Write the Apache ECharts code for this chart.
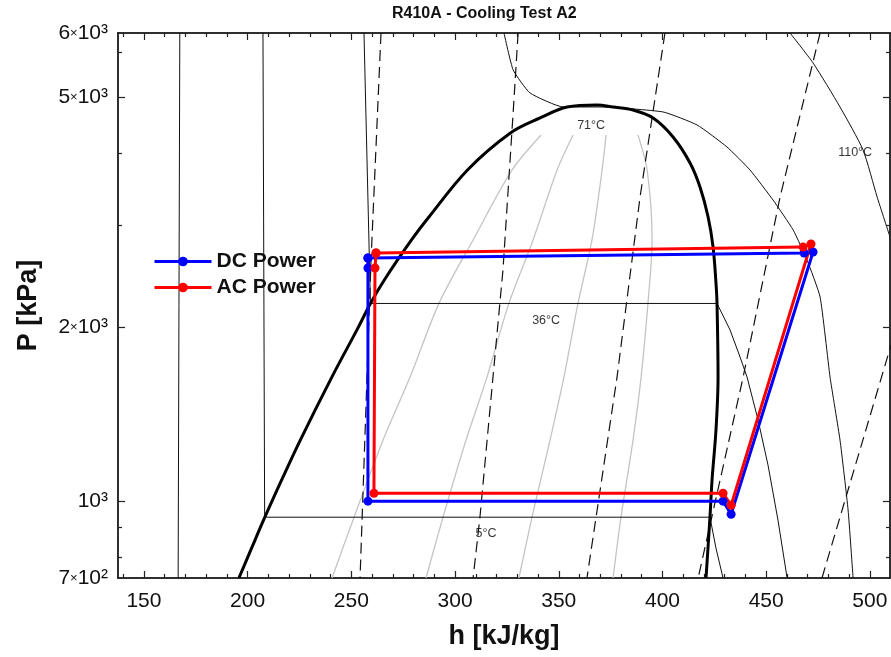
<!DOCTYPE html>
<html>
<head>
<meta charset="utf-8">
<title>R410A - Cooling Test A2</title>
<script src="https://cdn.jsdelivr.net/npm/echarts@6/dist/echarts.min.js"></script>
<style>
  html, body { margin: 0; padding: 0; background: #fff; }
  #chart { width: 891px; height: 657px; }
</style>
</head>
<body>
<div id="chart"></div>
<script>
// axis ranges and ticks
const hMin = 137.5, hMax = 509.7;
const pMin = 736, pMax = 6470;
const hLabelTicks = [150, 200, 250, 300, 350, 400, 450, 500];
const hMinorTicks = [140, 160, 170, 180, 190, 210, 220, 230, 240, 260, 270, 280, 290, 310, 320, 330, 340,
  360, 370, 380, 390, 410, 420, 430, 440, 460, 470, 480, 490, 510];
const pLabelValues = [736, 1000, 2000, 5000, 6470];
const pLabels = ['7×10²', '10³', '2×10³', '5×10³', '6×10³'];
const pMajorTicks = [1000, 2000, 5000];
const pMinorTicks = [800, 900, 3000, 4000, 6000];

// measured cycles [h kJ/kg, P kPa]
const dcCycle = [[258.0, 2637], [258.0, 2534], [258.0, 1000], [429.2, 1000], [433.1, 949],
  [472.6, 2701], [468.3, 2690], [258.0, 2637]];
const acCycle = [[261.9, 2690], [261.4, 2534], [260.9, 1032], [429.2, 1032], [433.1, 984],
  [471.6, 2789], [467.8, 2755], [261.9, 2690]];

// saturation dome
const satLiquid = [[195.8, 736], [201.9, 829], [208.3, 938], [216.8, 1096], [225.4, 1276], [240.6, 1640],
  [253.4, 2002], [259.2, 2200], [265.9, 2416], [279.0, 2834], [287.4, 3106], [306.0, 3747],
  [326.7, 4342], [341.0, 4610], [354.0, 4817], [368.5, 4856]];
const satVapor = [[376.2, 4817], [385.8, 4760], [395.5, 4610], [405.1, 4274], [413.3, 3853], [418.1, 3501],
  [422.0, 3106], [424.4, 2756], [425.8, 2387], [426.3, 2200], [426.8, 1640], [425.8, 1328],
  [423.9, 1087], [422.9, 938], [421.0, 736]];

// isotherms
const isoLow = [[167.3, 6470], [166.5, 736]];
const iso5 = [[207.4, 6470], [208.2, 938], [422.9, 938], [425.8, 829], [429.2, 736]];
const iso36 = [[256.1, 6470], [259.2, 2200], [426.3, 2200], [432.6, 1979], [437.4, 1777], [440.8, 1640],
  [446.1, 1382], [450.9, 1154], [455.7, 927], [460.1, 736]];
const iso71 = [[323.6, 6470], [328.0, 5584], [336.1, 5095], [352.1, 4817], [369.9, 4817], [400.3, 4722],
  [416.7, 4483], [431.1, 4107], [442.2, 3747], [453.3, 3324], [463.0, 2950], [469.7, 2616],
  [476.0, 2257], [480.8, 1640], [485.6, 1276], [489.5, 965], [491.9, 736]];
const iso110 = [[461.5, 6470], [472.6, 5742], [485.6, 4817], [496.7, 4058], [503.5, 3364], [509.7, 2869]];

// isentropes (dashed)
const isen1 = [[264.3, 6470], [259.5, 2616], [254.2, 736]];
const isen2 = [[330.4, 6470], [328.0, 4703], [323.1, 2514], [312.0, 938], [308.7, 736]];
const isen3 = [[401.2, 6470], [389.2, 3364], [378.1, 1640], [363.6, 736]];
const isen4 = [[476.0, 6470], [456.7, 3364], [438.9, 1640], [417.2, 736]];
const isen5 = [[476.9, 736], [510.2, 1864]];

// constant quality lines (grey)
const q20 = [[240.7, 736], [251.3, 938], [265.3, 1276], [278.3, 1640], [292.3, 2203], [308.7, 2834], [327.5, 3747], [341.5, 4308]];
const q40 = [[286.0, 736], [294.2, 938], [305.3, 1276], [315.4, 1640], [326.0, 2203], [337.6, 2834], [349.2, 3747], [356.9, 4308]];
const q60 = [[330.8, 736], [337.1, 938], [345.8, 1276], [352.5, 1640], [359.3, 2203], [366.0, 2834], [370.9, 3747], [372.8, 4308]];
const q80 = [[376.2, 736], [380.0, 938], [385.8, 1276], [389.7, 1640], [393.0, 2203], [395.0, 2834], [392.6, 3747], [388.2, 4308]];

// isotherm labels
const isoLabelNames = ['71°C', '36°C', '5°C', '110°C'];
const isoLabelPoints = [[365.6, 4467], [343.9, 2059], [314.9, 880], [492.9, 4010]];

const font = 'Liberation Sans, Arial, sans-serif';
const chart = echarts.init(document.getElementById('chart'));

const axisLine = { show: true, onZero: false, lineStyle: { color: '#222', width: 1.5 } };
const tickStyle = { color: '#222', width: 1.2 };

function pFormatter(v) {
  let i = pLabelValues.findIndex(x => Math.abs(x - v) / x < 0.01);
  if (i < 0) return '';
  const parts = pLabels[i].split('×');
  return parts.length > 1 ? '{m|' + parts[0] + '}{x|×}{m|' + parts[1] + '}' : '{m|' + parts[0] + '}';
}

function xAxisDef(pos, ticks, len, labels) {
  return {
    type: 'value', position: pos, min: hMin, max: hMax,
    axisLine: axisLine,
    axisTick: { inside: true, length: len, customValues: ticks, lineStyle: tickStyle },
    axisLabel: labels ? { show: true, customValues: hLabelTicks, margin: 13, fontSize: 21, color: '#111', fontFamily: font } : { show: false },
    splitLine: { show: false }
  };
}
function yAxisDef(pos, ticks, len, labels) {
  return {
    type: 'log', position: pos, min: pMin, max: pMax,
    axisLine: axisLine,
    axisTick: { inside: true, length: len, customValues: ticks, lineStyle: tickStyle },
    axisLabel: labels ? {
      show: true, customValues: pLabelValues, margin: 10, formatter: pFormatter,
      rich: {
        m: { fontSize: 21, color: '#111', fontFamily: font },
        x: { fontSize: 13, color: '#111', fontFamily: font }
      }
    } : { show: false },
    splitLine: { show: false }
  };
}

const xAxes = [xAxisDef('bottom', hLabelTicks, 7, true), xAxisDef('bottom', hMinorTicks, 4, false),
  xAxisDef('top', hLabelTicks, 7, false), xAxisDef('top', hMinorTicks, 4, false)];
Object.assign(xAxes[0], {
  name: 'h [kJ/kg]', nameLocation: 'middle', nameGap: 45,
  nameTextStyle: { fontSize: 27, fontWeight: 'bold', color: '#111', fontFamily: font }
});
const yAxes = [yAxisDef('left', pMajorTicks, 7, true), yAxisDef('left', pMinorTicks, 4, false),
  yAxisDef('right', pMajorTicks, 7, false), yAxisDef('right', pMinorTicks, 4, false)];
Object.assign(yAxes[0], {
  name: 'P [kPa]', nameLocation: 'middle', nameGap: 76, nameRotate: 90,
  nameTextStyle: { fontSize: 27, fontWeight: 'bold', color: '#111', fontFamily: font }
});

function thin(data, opts) {
  return Object.assign({
    type: 'line', data: data, symbol: 'none', silent: true,
    lineStyle: { color: '#111', width: 1 }
  }, opts || {});
}
const dashed = { color: '#111', width: 1.2, type: [11, 6] };
const grey = { color: '#c4c4c4', width: 1.3 };

const series = [
  thin(q20, { smooth: 0.3, lineStyle: grey }),
  thin(q40, { smooth: 0.3, lineStyle: grey }),
  thin(q60, { smooth: 0.3, lineStyle: grey }),
  thin(q80, { smooth: 0.3, lineStyle: grey }),
  thin(isoLow), thin(iso5), thin(iso36), thin(iso71, { smooth: 0.15 }), thin(iso110, { smooth: 0.2 }),
  thin(isen1, { lineStyle: dashed }), thin(isen2, { lineStyle: dashed }),
  thin(isen3, { lineStyle: dashed }), thin(isen4, { lineStyle: dashed }),
  thin(isen5, { lineStyle: dashed }),
  thin(satLiquid.concat(satVapor), { smooth: 0.35, lineStyle: { color: '#000', width: 3 } }),
  {
    type: 'scatter', silent: true, symbolSize: 0,
    data: isoLabelPoints.map((p, i) => ({ value: p, name: isoLabelNames[i] })),
    label: {
      show: true, position: 'inside', formatter: '{b}', fontSize: 12.5, color: '#000', fontFamily: font,
      backgroundColor: '#fff', padding: [1, 1]
    }
  },
  {
    name: 'DC Power', type: 'line', data: dcCycle, symbol: 'circle', symbolSize: 9,
    itemStyle: { color: '#0000ff' }, lineStyle: { color: '#0000ff', width: 3 }
  },
  {
    name: 'AC Power', type: 'line', data: acCycle, symbol: 'circle', symbolSize: 9,
    itemStyle: { color: '#ff0000' }, lineStyle: { color: '#ff0000', width: 3 }
  }
];

chart.setOption({
  animation: false,
  backgroundColor: '#fff',
  title: {
    text: 'R410A - Cooling Test A2', left: 392, top: 6, padding: 0,
    textStyle: { fontSize: 16, fontWeight: 'bold', color: '#111', fontFamily: font }
  },
  legend: {
    data: ['DC Power', 'AC Power'], orient: 'vertical', left: 153, top: 251, padding: 0,
    itemWidth: 57, itemHeight: 12, itemGap: 5,
    lineStyle: { width: 3 },
    textStyle: { fontSize: 21, fontWeight: 'bold', color: '#111', fontFamily: font }
  },
  grid: { left: 118, top: 33, right: 1, bottom: 79 },
  xAxis: xAxes,
  yAxis: yAxes,
  series: series
});
</script>
</body>
</html>
